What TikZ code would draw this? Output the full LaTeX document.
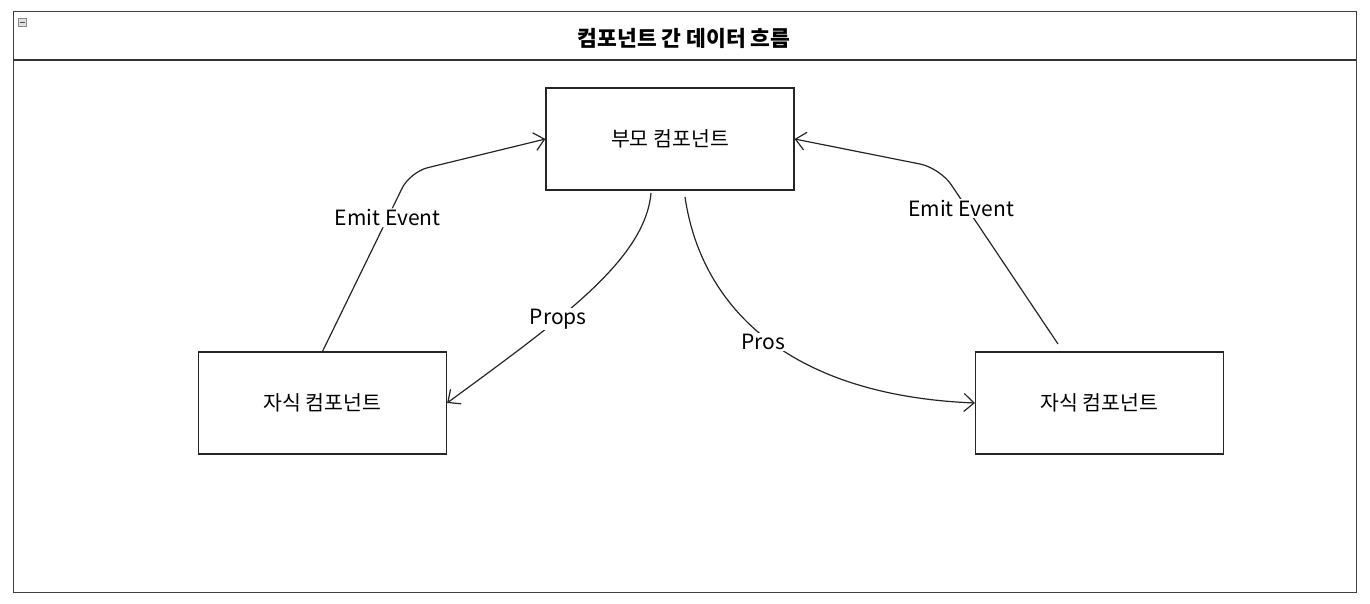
\documentclass[tikz,border=0pt]{standalone}
\usepackage{fontspec}
\setmainfont{Noto Sans CJK KR}
\usetikzlibrary{arrows.meta}
\tikzset{
  compbox/.style={draw=black!85, line width=1.2pt, minimum width=248pt, minimum height=102pt, inner sep=0pt, font=\fontsize{20.5}{22}\selectfont},
  flow/.style={draw=black!85, line width=1.2pt, -{Straight Barb[length=10pt,width=18pt,line width=1.2pt]}},
  lbl/.style={fill=white, inner sep=1pt, font=\fontsize{21}{23}\selectfont},
  frame/.style={draw=black!75, line width=1pt}
}
\begin{document}
\begin{tikzpicture}[x=1pt,y=-1pt]
\useasboundingbox (0,0) rectangle (1370,604);
% container
\draw[frame] (13,12) rectangle (1356,592);
\draw[draw=black!80, line width=1.8pt] (13,60) -- (1356,60);
\draw[draw=black!45, fill=black!12, line width=0.6pt] (18,18) rectangle (26,26);
\draw[black!70, line width=0.8pt] (19.5,22) -- (24.5,22);
\node[font=\bfseries\fontsize{21.5}{23}\selectfont] (title) at (684,38) {컴포넌트 간 데이터 흐름};
% nodes
\node[compbox] (p) at (670,139) {부모 컴포넌트};
\node[compbox] (lc) at (322.5,403) {자식 컴포넌트};
\node[compbox] (rc) at (1099.5,403) {자식 컴포넌트};
% free ends
\coordinate (rs) at (1058,344);
\coordinate (ps1) at (651,193);
\coordinate (ps2) at (685,197);
% edges
\draw[flow, rounded corners=18pt] (lc.north) -- node[lbl, pos=0.745] {Emit Event} (410,172) -- (p.west);
\draw[flow, rounded corners=20pt] (rs) -- node[lbl, pos=0.77, xshift=-6pt] {Emit Event} (940,168) -- (p.east);
\draw[flow] (ps1) .. controls (645,260) and (560,320) .. node[lbl, pos=0.63] {Props} (lc.east);
\draw[flow] (ps2) .. controls (700,300) and (780,395) .. node[lbl, pos=0.53, xshift=-8pt] {Pros} (rc.west);
\end{tikzpicture}
\end{document}
